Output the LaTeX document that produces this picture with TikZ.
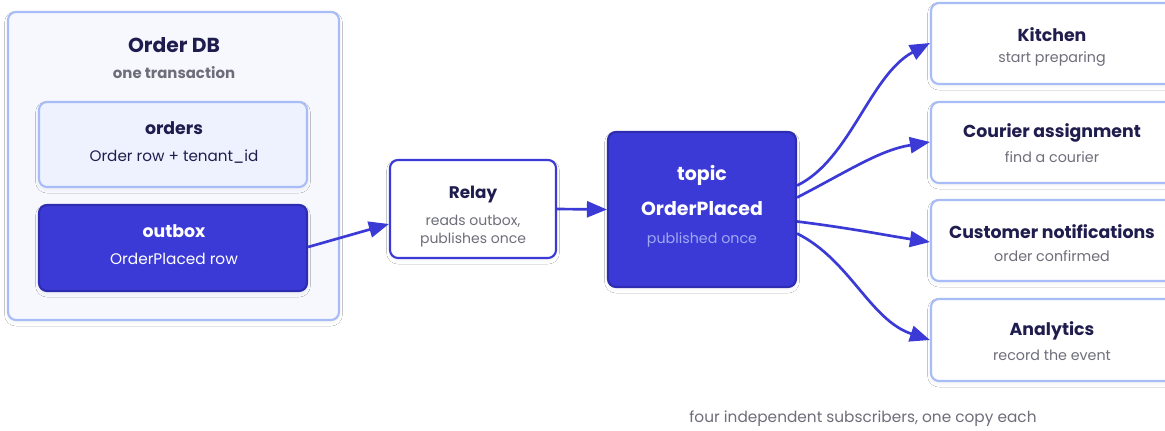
\documentclass[tikz,border=0pt]{standalone}
\usepackage{fontspec}
\setmainfont{Poppins}
\usetikzlibrary{arrows.meta,shadows.blur}

\definecolor{navy}{RGB}{31,29,77}
\definecolor{greytxt}{RGB}{110,110,122}
\definecolor{brand}{RGB}{59,58,214}
\definecolor{branddark}{RGB}{46,44,176}
\definecolor{paleline}{RGB}{168,189,247}
\definecolor{dbfill}{RGB}{247,248,254}
\definecolor{rowfill}{RGB}{237,242,254}
\definecolor{softblue}{RGB}{160,168,242}

\tikzset{
  x=0.75pt, y=-0.75pt,
  box/.style={draw, line width=1.6pt, rounded corners=6pt, inner sep=0pt,
    blur shadow={shadow xshift=0pt, shadow yshift=-2pt, shadow blur radius=2.5pt, shadow blur steps=8, shadow opacity=5}},
  lightbox/.style={box, draw=paleline, fill=white},
  darkbox/.style={box, draw=branddark, fill=brand},
  ttl/.style={font=\bfseries\fontsize{13}{15}\selectfont, text=navy},
  sub/.style={font=\fontsize{10.7}{12}\selectfont, text=greytxt},
  flow/.style={draw=brand, line width=2pt, -{Triangle[length=15pt,width=12pt]}},
}

\begin{document}
\begin{tikzpicture}
\clip (0,0) rectangle (1165,430);
\fill[white] (0,0) rectangle (1165,430);

% transaction boundary
\node[lightbox, fill=dbfill, minimum width=331*0.75pt, minimum height=308*0.75pt] (db) at (173.5,166) {};
\node[font=\bfseries\fontsize{15.2}{17}\selectfont, text=navy] (dbt) at (174,45) {Order DB};
\node[font=\bfseries\fontsize{11.2}{13}\selectfont, text=greytxt] (dbs) at (174,73) {one transaction};

% tables written together
\node[lightbox, fill=rowfill, minimum width=268*0.75pt, minimum height=85*0.75pt] (orders) at (173,144.5) {};
\node[ttl] at (174,128) {orders};
\node[sub, text=navy, font=\fontsize{11.4}{13}\selectfont] at (174,157) {Order row + tenant\_id};

\node[darkbox, minimum width=268*0.75pt, minimum height=86*0.75pt] (outbox) at (173,248) {};
\node[ttl, text=white] at (174,231) {outbox};
\node[sub, text=white, font=\fontsize{11.5}{13}\selectfont] at (174,259) {OrderPlaced row};

% relay
\node[box, draw=brand, fill=white, minimum width=166*0.75pt, minimum height=98*0.75pt] (relay) at (473,209) {};
\node[ttl, font=\bfseries\fontsize{12.6}{14}\selectfont] at (473,195) {Relay};
\node[sub, font=\fontsize{10.5}{12}\selectfont] at (473,221) {reads outbox,};
\node[sub, font=\fontsize{10.5}{12}\selectfont] at (473,240) {publishes once};

% topic
\node[darkbox, minimum width=188*0.75pt, minimum height=155*0.75pt] (topic) at (702,209.5) {};
\node[ttl, text=white, font=\bfseries\fontsize{14.2}{16}\selectfont] at (702,175) {topic};
\node[ttl, text=white, font=\bfseries\fontsize{14.2}{16}\selectfont] at (702,209) {OrderPlaced};
\node[sub, text=softblue] at (702,240) {published once};

% subscribers
\node[lightbox, minimum width=250*0.75pt, minimum height=81*0.75pt] (kitchen) at (1056,43.5) {};
\node[ttl] at (1052,35) {Kitchen};
\node[sub] at (1052,59) {start preparing};

\node[lightbox, minimum width=250*0.75pt, minimum height=81*0.75pt] (courier) at (1056,142.5) {};
\node[ttl] at (1052,133) {Courier assignment};
\node[sub] at (1052,157) {find a courier};

\node[lightbox, minimum width=250*0.75pt, minimum height=81*0.75pt] (notify) at (1056,240.5) {};
\node[ttl] at (1052,232) {Customer notifications};
\node[sub] at (1052,256) {order confirmed};

\node[lightbox, minimum width=250*0.75pt, minimum height=82*0.75pt] (analytics) at (1056,340) {};
\node[ttl] at (1052,331) {Analytics};
\node[sub] at (1052,355) {record the event};

\node[sub, font=\fontsize{11.5}{13}\selectfont] (foot) at (863,419) {four independent subscribers, one copy each};

% connectors
\draw[flow] (outbox.east) ++(0,-1) -- ([yshift=-15*0.75pt]relay.west);
\draw[flow] (relay.east) -- (topic.west);
\draw[flow] ([yshift=24*0.75pt]topic.east) .. controls (850,160) and (870,75) .. ([yshift=0.5*0.75pt]kitchen.west);
\draw[flow] ([yshift=12*0.75pt]topic.east) .. controls (850,170) and (880,150) .. ([yshift=0.5*0.75pt]courier.west);
\draw[flow] ([yshift=-12*0.75pt]topic.east) .. controls (850,228) and (890,236) .. ([yshift=-1.5*0.75pt]notify.west);
\draw[flow] ([yshift=-24*0.75pt]topic.east) .. controls (850,260) and (870,320) .. ([yshift=-0*0.75pt]analytics.west);
\end{tikzpicture}
\end{document}
